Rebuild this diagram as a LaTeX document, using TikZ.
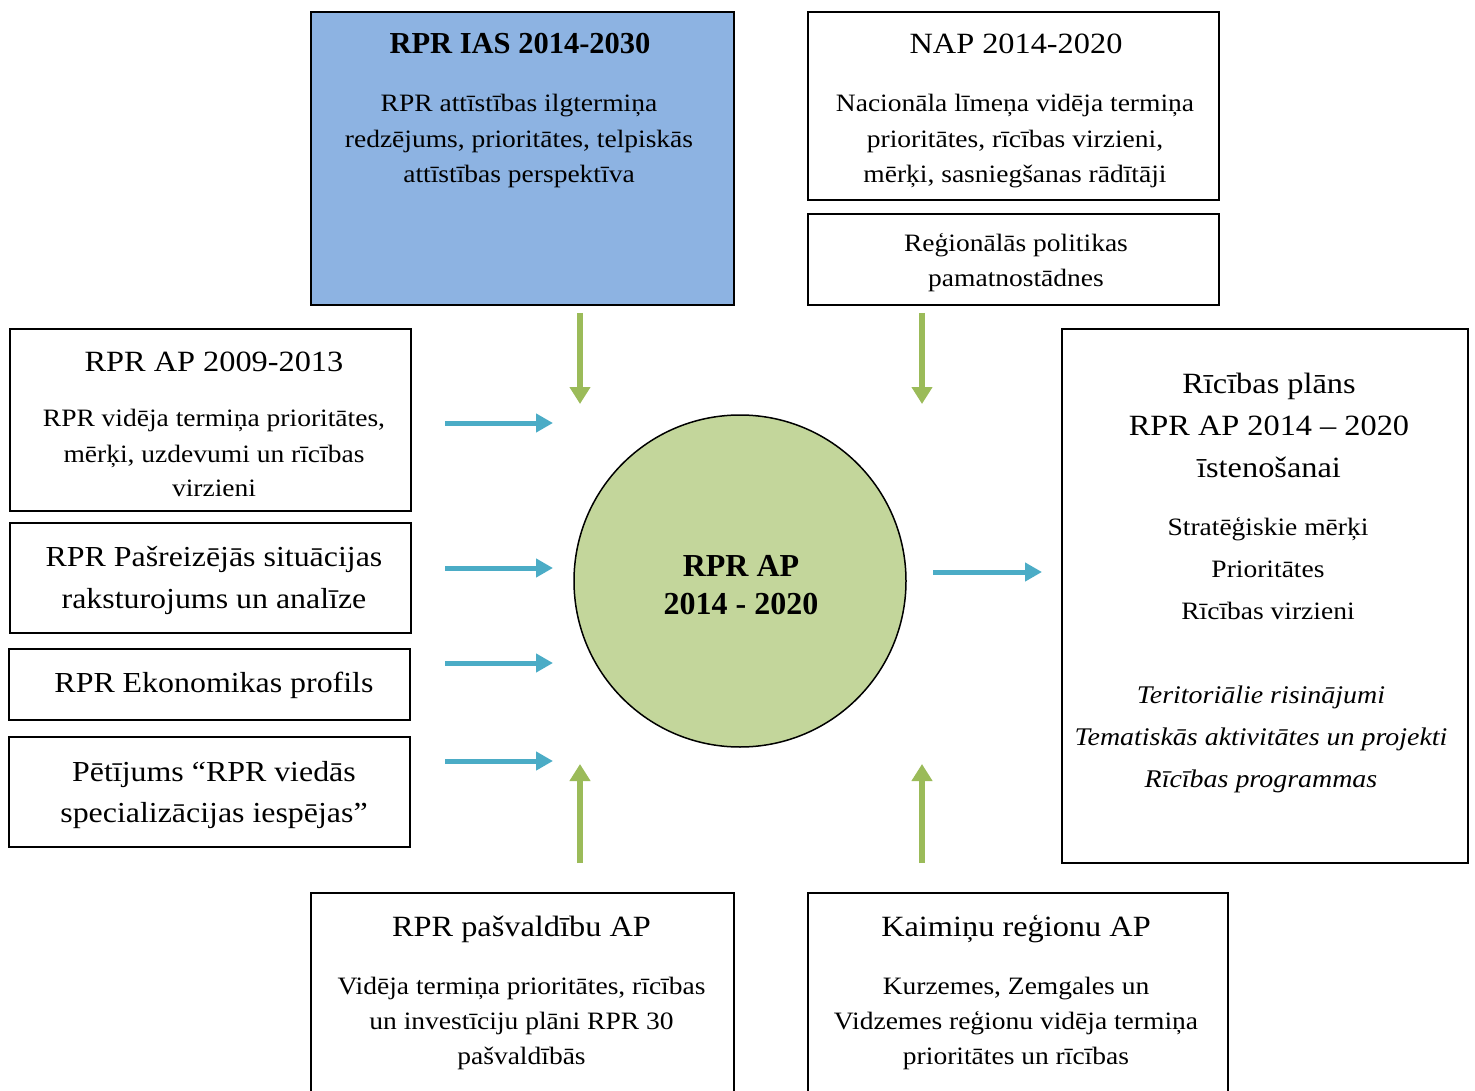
\documentclass[tikz,border=0pt]{standalone}
\usepackage{fontspec}
\setmainfont[FakeStretch=1.1]{Liberation Serif}
\newfontfamily\tnr{Liberation Serif}
\usetikzlibrary{arrows.meta}
\definecolor{iasblue}{HTML}{8DB3E2}
\definecolor{circgreen}{HTML}{C3D69B}
\definecolor{arrblue}{HTML}{4BACC6}
\definecolor{arrgreen}{HTML}{9BBB59}
\begin{document}
\begin{tikzpicture}[x=1pt,y=-1pt,
  box/.style={draw=black, line width=2pt, rectangle, inner sep=0pt, anchor=north west},
  ttl/.style={anchor=base, inner sep=0pt, font=\fontsize{29.4}{36}\selectfont},
  mid/.style={anchor=base, inner sep=0pt, font=\fontsize{29}{36}\selectfont},
  txt/.style={anchor=base, inner sep=0pt, font=\fontsize{25}{30}\selectfont},
  lst/.style={anchor=base, inner sep=0pt, font=\fontsize{25}{30}\selectfont},
  itl/.style={anchor=base, inner sep=0pt, font=\fontsize{25.4}{30}\selectfont\itshape},
  ctr/.style={anchor=base, inner sep=0pt, font=\tnr\fontsize{32}{36}\selectfont\bfseries},
  barrow/.style={draw=arrblue, line width=5pt, -{Triangle[length=17pt,width=18pt]}},
  garrow/.style={draw=arrgreen, line width=6pt, -{Triangle[length=17pt,width=20pt]}}]
\useasboundingbox (0,0) rectangle (1475,1091);
% boxes
\node[box, fill=iasblue, minimum width=423pt, minimum height=293pt] (ias) at (310,11) {};
\node[box, minimum width=411pt, minimum height=188pt] (nap) at (807,11) {};
\node[box, minimum width=411pt, minimum height=91pt] (reg) at (807,213) {};
\node[box, minimum width=401pt, minimum height=182pt] (ap09) at (9,328) {};
\node[box, minimum width=401pt, minimum height=110pt] (sit) at (9,522) {};
\node[box, minimum width=401pt, minimum height=71pt] (eko) at (8,648) {};
\node[box, minimum width=401pt, minimum height=110pt] (pet) at (8,736) {};
\node[box, minimum width=406pt, minimum height=534pt] (plan) at (1061,328) {};
\node[box, minimum width=423pt, minimum height=210pt] (pasv) at (310,892) {};
\node[box, minimum width=420pt, minimum height=210pt] (kaim) at (807,892) {};
\node[circle, draw=black, line width=1.5pt, fill=circgreen, minimum size=332pt, inner sep=0pt] (ap) at (740,581) {};
% texts
\node[anchor=base, inner sep=0pt, font=\tnr\fontsize{30.5}{36}\selectfont\bfseries] (iasT) at (520,54) {RPR IAS 2014-2030};
\node[txt] (iasA) at (519,112) {RPR attīstības ilgtermiņa};
\node[txt] (iasB) at (519,148) {redzējums, prioritātes, telpiskās};
\node[txt] (iasC) at (519,183) {attīstības perspektīva};
\node[ttl] (napT) at (1016,54) {NAP 2014-2020};
\node[txt] (napA) at (1015,112) {Nacionāla līmeņa vidēja termiņa};
\node[txt] (napB) at (1015,148) {prioritātes, rīcības virzieni,};
\node[txt] (napC) at (1015,183) {mērķi, sasniegšanas rādītāji};
\node[txt] (regA) at (1016,252) {Reģionālās politikas};
\node[txt] (regB) at (1016,287) {pamatnostādnes};
\node[ttl] (apT) at (214,371) {RPR AP 2009-2013};
\node[txt] (apA) at (214,426) {RPR vidēja termiņa prioritātes,};
\node[txt] (apB) at (214,462) {mērķi, uzdevumi un rīcības};
\node[txt] (apC) at (214,496) {virzieni};
\node[mid] (sitA) at (214,566) {RPR Pašreizējās situācijas};
\node[mid] (sitB) at (214,608) {raksturojums un analīze};
\node[mid] (ekoA) at (214,692) {RPR Ekonomikas profils};
\node[mid] (petA) at (214,781) {Pētījums “RPR viedās};
\node[mid] (petB) at (214,822) {specializācijas iespējas”};
\node[ttl] (plA) at (1269,393) {Rīcības plāns};
\node[ttl] (plB) at (1269,435) {RPR AP 2014 – 2020};
\node[ttl] (plC) at (1269,477) {īstenošanai};
\node[lst] (plD) at (1268,535) {Stratēģiskie mērķi};
\node[lst] (plE) at (1268,577) {Prioritātes};
\node[lst] (plF) at (1268,619) {Rīcības virzieni};
\node[itl] (plG) at (1261,703) {Teritoriālie risinājumi};
\node[itl] (plH) at (1261,745) {Tematiskās aktivitātes un projekti};
\node[itl] (plI) at (1261,787) {Rīcības programmas};
\node[ttl] (pasT) at (521.5,936) {RPR pašvaldību AP};
\node[txt] (pasA) at (521.5,994) {Vidēja termiņa prioritātes, rīcības};
\node[txt] (pasB) at (521.5,1029) {un investīciju plāni RPR 30};
\node[txt] (pasC) at (521.5,1064) {pašvaldībās};
\node[ttl] (kaT) at (1016,936) {Kaimiņu reģionu AP};
\node[txt] (kaA) at (1016,994) {Kurzemes, Zemgales un};
\node[txt] (kaB) at (1016,1029) {Vidzemes reģionu vidēja termiņa};
\node[txt] (kaC) at (1016,1064) {prioritātes un rīcības};
\node[ctr] (apL1) at (741,576) {RPR AP};
\node[ctr] (apL2) at (741,614) {2014 - 2020};
% arrow end points
\coordinate (b1s) at (445,423); \coordinate (b1e) at (553,423);
\coordinate (b2s) at (445,568); \coordinate (b2e) at (553,568);
\coordinate (b3s) at (445,663); \coordinate (b3e) at (553,663);
\coordinate (b4s) at (445,761); \coordinate (b4e) at (553,761);
\coordinate (b5s) at (933,572); \coordinate (b5e) at (1042,572);
\coordinate (g1s) at (580,313); \coordinate (g1e) at (580,404);
\coordinate (g2s) at (922,313); \coordinate (g2e) at (922,404);
\coordinate (g3s) at (580,863); \coordinate (g3e) at (580,764);
\coordinate (g4s) at (922,863); \coordinate (g4e) at (922,764);
\draw[barrow] (b1s) -- (b1e);
\draw[barrow] (b2s) -- (b2e);
\draw[barrow] (b3s) -- (b3e);
\draw[barrow] (b4s) -- (b4e);
\draw[barrow] (b5s) -- (b5e);
\draw[garrow] (g1s) -- (g1e);
\draw[garrow] (g2s) -- (g2e);
\draw[garrow] (g3s) -- (g3e);
\draw[garrow] (g4s) -- (g4e);
\end{tikzpicture}
\end{document}
